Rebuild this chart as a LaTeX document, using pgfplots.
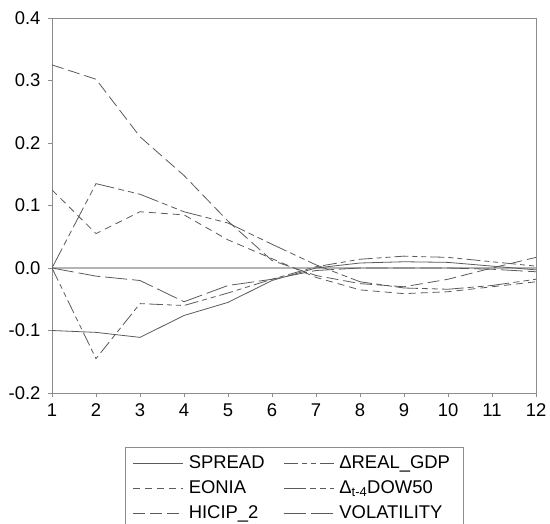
\documentclass[border=0pt]{standalone}
\usepackage{fontspec}
\setmainfont{Liberation Sans}
\usepackage{pgfplots}
\pgfplotsset{compat=1.18}

\definecolor{lin}{HTML}{5A5A5A}
\definecolor{frm}{HTML}{8C8C8C}
\definecolor{zer}{HTML}{B4B4B4}

\begin{document}
\begin{tikzpicture}
\begin{axis}[
  scale only axis, width=484bp, height=375bp,
  xmin=1, xmax=12, ymin=-0.2, ymax=0.4,
  xtick={1,...,12}, ytick={-0.2,-0.1,0,0.1,0.2,0.3,0.4},
  tick pos=left, tick align=outside, major tick length=4bp,
  axis line style={frm, line width=0.8bp},
  every tick/.style={frm, line width=0.8bp},
  tick label style={font=\fontsize{18.5}{20}\selectfont, text=black},
  yticklabel style={xshift=-4bp, /pgf/number format/.cd, fixed, fixed zerofill, precision=1, assume math mode=true},
  xticklabel style={yshift=-3bp, /pgf/number format/assume math mode=true},
  legend columns=2,
  legend style={at={(0.5,-0.144)}, anchor=north, draw=frm, line width=0.6bp,
    font=\fontsize{18.5}{19}\selectfont, inner xsep=8bp, inner ysep=6bp,
    row sep=4bp,
    nodes={text height=13bp, text depth=4bp, inner ysep=2bp, inner xsep=5bp},
    /tikz/every even column/.append style={column sep=14bp}},
  legend cell align=left,
  legend image code/.code={\draw[#1] (0bp,0bp) -- (50bp,0bp);},
  every axis plot/.append style={lin, line width=0.8bp},
]
\addplot[zer, line width=1.6bp, forget plot] coordinates {(1,0) (12,0)};

% SPREAD
\addplot[solid] coordinates {(1,-0.100) (2,-0.103) (3,-0.111) (4,-0.076) (5,-0.055) (6,-0.020) (7,0.000) (8,0.008) (9,0.010) (10,0.009) (11,0.003) (12,-0.003)};
\addlegendentry{SPREAD}
% REAL_GDP
\addplot[dash pattern=on 14bp off 4bp on 5bp off 4bp on 5bp off 4bp] coordinates {(1,0) (2,-0.145) (3,-0.057) (4,-0.060) (5,-0.040) (6,-0.018) (7,0.002) (8,0.014) (9,0.019) (10,0.017) (11,0.010) (12,0.003)};
\addlegendentry{ΔREAL\_GDP}
% EONIA
\addplot[dash pattern=on 7bp off 5bp] coordinates {(1,0.125) (2,0.055) (3,0.090) (4,0.085) (5,0.045) (6,0.015) (7,-0.015) (8,-0.035) (9,-0.041) (10,-0.038) (11,-0.030) (12,-0.022)};
\addlegendentry{EONIA}
% DOW50
\addplot[dash pattern=on 22bp off 4bp on 6bp off 4bp on 6bp off 4bp] coordinates {(1,0) (2,0.135) (3,0.118) (4,0.090) (5,0.072) (6,0.038) (7,0.005) (8,-0.022) (9,-0.032) (10,-0.034) (11,-0.028) (12,-0.018)};
\addlegendentry{Δ\textsubscript{t-4}DOW50}
% HICIP_2
\addplot[dash pattern=on 12bp off 5bp] coordinates {(1,0.325) (2,0.302) (3,0.210) (4,0.148) (5,0.075) (6,0.012) (7,-0.012) (8,-0.025) (9,-0.030) (10,-0.018) (11,0.000) (12,0.017)};
\addlegendentry{HICIP\_2}
% VOLATILITY
\addplot[dash pattern=on 22bp off 5bp] coordinates {(1,0) (2,-0.013) (3,-0.020) (4,-0.054) (5,-0.028) (6,-0.018) (7,-0.004) (8,0.000) (9,0.000) (10,0.000) (11,-0.002) (12,-0.006)};
\addlegendentry{VOLATILITY}
\end{axis}
\pgfresetboundingbox
\path[use as bounding box] (-52bp,-131bp) rectangle (498bp,393bp);
\end{tikzpicture}
\end{document}
